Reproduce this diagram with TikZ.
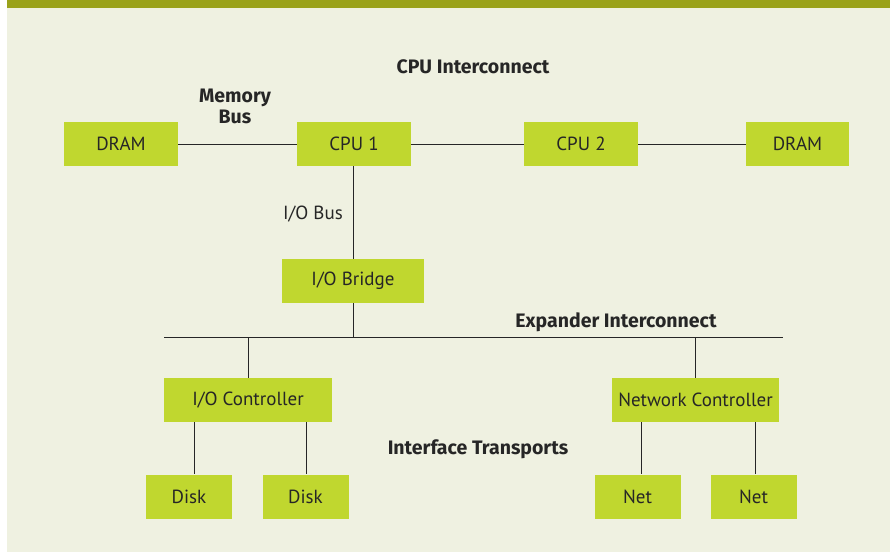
\documentclass[tikz,border=0pt]{standalone}
\usepackage{fontspec}
\setmainfont{PT Sans}
\newfontfamily\lblfont{Fira Sans}
\definecolor{bg}{HTML}{EFF1E1}
\definecolor{bar}{HTML}{9AA21A}
\definecolor{boxc}{HTML}{C0D72F}
\definecolor{ink}{HTML}{262626}
\begin{document}
\begin{tikzpicture}[x=1pt,y=-1pt,
  blk/.style={fill=boxc,draw=none,minimum height=44pt,inner sep=0pt,text=ink,font=\fontsize{19}{20}\selectfont},
  lbl/.style={text=ink,font=\lblfont\bfseries\fontsize{19.5}{21.5}\selectfont,inner sep=0pt},
  plain/.style={text=ink,font=\fontsize{19}{20}\selectfont,inner sep=0pt},
  wire/.style={draw=ink,line width=0.9pt}]
\useasboundingbox (0,0) rectangle (890,552);
\fill[white] (0,0) rectangle (890,552);
\fill[bg] (7,8) rectangle (890,551.5);
\fill[bar] (7,0) rectangle (890,8);
% nodes
\node[blk,minimum width=114pt] (dram1) at (121,144) {DRAM};
\node[blk,minimum width=114pt] (cpu1) at (354,144) {CPU 1};
\node[blk,minimum width=114pt] (cpu2) at (581,144) {CPU 2};
\node[blk,minimum width=103pt] (dram2) at (797.5,144) {DRAM};
\node[blk,minimum width=142pt] (bridge) at (353,281) {I/O Bridge};
\node[blk,minimum width=168pt] (ioc) at (248,400) {I/O Controller};
\node[blk,minimum width=167pt] (nc) at (695.5,400) {Network Controller};
\node[blk,minimum width=86pt] (disk1) at (189,496.5) {Disk};
\node[blk,minimum width=86pt] (disk2) at (305.5,496.5) {Disk};
\node[blk,minimum width=86pt] (net1) at (637.5,496.5) {Net};
\node[blk,minimum width=86pt] (net2) at (753.5,496.5) {Net};
% labels
\node[lbl,align=center] (memlbl) at (235,106.5) {Memory\\Bus};
\node[lbl] (cpulbl) at (473,67) {CPU Interconnect};
\node[plain] (ioblbl) at (313,214) {I/O Bus};
\node[lbl] (explbl) at (616,322) {Expander Interconnect};
\node[lbl] (iflbl) at (478,449) {Interface Transports};
% bus coordinates
\coordinate (busL) at (164,337);
\coordinate (busR) at (783,337);
% connectors
\draw[wire] (dram1) -- (cpu1);
\draw[wire] (cpu1) -- (cpu2);
\draw[wire] (cpu2) -- (dram2);
\draw[wire] (cpu1.south -| bridge.north) -- (bridge.north);
\draw[wire] (busL) -- (busR);
\draw[wire] (bridge.south) -- (bridge.south |- busL);
\draw[wire] (busL -| ioc.north) -- (ioc.north);
\draw[wire] (busL -| nc.north) -- (nc.north);
\draw[wire] (ioc.south -| 194,0) -- (disk1.north -| 194,0);
\draw[wire] (ioc.south -| 306,0) -- (disk2.north -| 306,0);
\draw[wire] (nc.south -| 641,0) -- (net1.north -| 641,0);
\draw[wire] (nc.south -| 755,0) -- (net2.north -| 755,0);
\end{tikzpicture}
\end{document}
